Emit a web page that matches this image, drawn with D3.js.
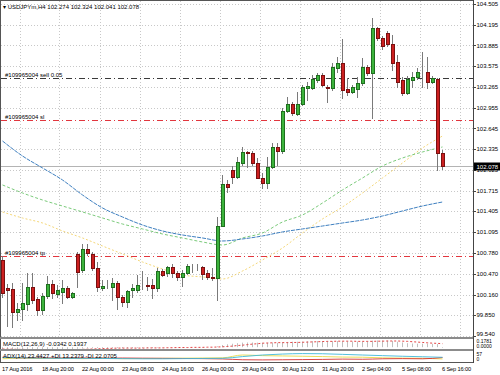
<!DOCTYPE html>
<html lang="en">
<head>
<meta charset="UTF-8">
<title>USDJPYm H4</title>
<script src="https://d3js.org/d3.v7.min.js"></script>
<style>
  body { margin: 0; background: #fff; }
  svg { display: block; font-family: "Liberation Sans", Arial, sans-serif; }
  .lbl { font-size: 6px; fill: #000; }
  .tlbl { font-size: 5.7px; fill: #000; letter-spacing: -0.15px; }
</style>
</head>
<body>
<svg width="500" height="375"></svg>
<script>
// H4 bars, 17 Aug 2016 16:00 .. 6 Sep 2016 16:00
const opens = [100.677,100.258,100.243,99.899,99.944,100.019,100.273,100.094,99.929,100.138,
  100.318,100.168,100.198,100.258,100.124,100.767,100.527,100.841,100.767,100.557,
  100.258,100.288,100.273,100.333,100.124,100.049,100.228,100.228,100.303,100.303,
  100.303,100.258,100.512,100.482,100.572,100.482,100.423,100.482,100.587,100.587,
  100.572,100.482,100.423,100.408,101.185,101.813,102.023,101.918,102.127,102.292,
  102.277,102.127,101.903,101.828,102.068,102.367,102.307,102.905,103.010,102.860,
  103.010,103.249,103.249,103.369,103.443,103.264,103.249,103.548,103.623,103.234,
  103.189,103.234,103.324,103.563,103.473,104.146,103.997,104.072,103.907,103.638,
  103.369,103.174,103.369,103.414,103.488,103.488,103.339,103.384,102.274];
const highs = [100.737,100.318,100.333,100.034,100.333,100.482,100.482,100.124,100.183,100.438,
  100.378,100.303,100.378,100.288,100.198,100.797,100.916,100.916,100.797,100.647,
  100.378,100.378,100.408,100.363,100.153,100.228,100.318,100.453,100.512,100.423,
  100.393,100.557,100.542,100.587,100.617,100.512,100.527,100.617,100.617,100.617,
  100.587,100.527,100.557,101.320,101.948,101.873,102.083,102.217,102.367,102.307,
  102.307,102.202,101.978,102.217,102.427,102.427,102.950,103.114,103.040,103.189,
  103.294,103.339,103.443,103.473,103.473,103.294,103.623,103.713,103.982,103.399,
  103.294,103.414,103.698,103.593,104.296,104.161,104.027,104.102,104.042,103.743,
  103.414,103.428,103.488,103.548,103.787,103.713,103.428,103.399,102.324];
const lows = [100.124,99.690,99.675,99.780,99.780,99.929,100.034,99.854,99.869,100.109,
  100.109,100.124,100.034,100.109,100.109,100.273,100.497,100.752,100.527,100.213,
  100.228,100.258,100.079,99.944,99.989,99.974,100.124,100.198,100.243,100.228,
  100.109,100.213,100.438,100.438,100.423,100.378,100.288,100.468,100.497,100.527,
  100.393,100.393,100.378,100.079,101.185,101.694,101.828,101.903,102.098,102.068,
  102.098,101.903,101.754,101.754,102.053,102.098,102.277,102.890,102.845,102.845,
  102.995,103.070,103.234,103.339,103.279,103.040,103.219,103.488,103.099,103.144,
  103.174,103.114,103.294,103.443,102.800,103.967,103.832,103.877,103.518,103.264,
  103.144,103.159,103.264,103.384,103.264,103.249,103.324,102.023,102.041];
const closes = [100.183,100.228,99.899,99.944,100.034,100.273,100.079,99.929,100.138,100.318,
  100.183,100.228,100.258,100.124,100.183,100.497,100.841,100.782,100.557,100.273,
  100.288,100.293,100.333,100.124,100.049,100.213,100.258,100.303,100.300,100.288,
  100.258,100.512,100.453,100.572,100.482,100.423,100.482,100.587,100.590,100.585,
  100.468,100.423,100.408,101.185,101.813,101.769,101.918,102.142,102.292,102.277,
  102.127,101.903,101.828,102.068,102.367,102.307,102.905,103.010,102.875,103.010,
  103.264,103.279,103.384,103.443,103.294,103.249,103.563,103.623,103.219,103.189,
  103.264,103.324,103.563,103.473,104.146,103.997,103.877,103.907,103.623,103.339,
  103.174,103.384,103.414,103.488,103.485,103.339,103.399,102.277,102.078];

// moving averages, read every 4th bar
const maIdx = [0,4,8,12,16,20,24,28,32,36,40,44,48,52,56,60,64,68,72,76,80,84,88];
const maBlue = [102.456,102.232,102.053,101.873,101.649,101.455,101.320,101.200,101.111,101.051,
  101.006,100.961,100.991,101.036,101.096,101.141,101.185,101.230,101.275,101.335,101.410,101.484,101.544];
const maGreen = [101.799,101.679,101.574,101.484,101.395,101.305,101.215,101.141,101.066,101.006,
  100.946,100.901,101.006,101.081,101.245,101.350,101.529,101.724,101.903,102.083,102.202,102.292,102.367];
const maYellow = [101.395,101.305,101.230,101.111,101.006,100.886,100.767,100.647,100.542,100.453,
  100.423,100.393,100.512,100.677,100.856,101.081,101.290,101.470,101.679,101.903,102.127,102.352,102.531];

// order lines
const orders = [
  {label: "#109965004 sell 0.05", price: 103.399, color: "#3a3a3a"},
  {label: "#109965004 sl", price: 102.770, color: "#e2363e"},
  {label: "#109965004 tp", price: 100.737, color: "#e2363e"}
];

const priceTicks = ["104.505","104.195","103.885","103.575","103.265","102.955","102.645","102.335",
  "102.025","101.715","101.405","101.095","100.780","100.470","100.160","99.850","99.540"];
const timeLabels = ["17 Aug 2016","18 Aug 20:00","22 Aug 00:00","23 Aug 08:00","24 Aug 16:00","26 Aug 00:00",
  "29 Aug 04:00","30 Aug 12:00","31 Aug 20:00","2 Sep 04:00","5 Sep 08:00","6 Sep 16:00"];
const timeIdx = [0,8,16,24,32,40,48,56,64,72,80,88];

// MACD(12,26,9)
const macdMain = [-0.12,-0.13,-0.14,-0.15,-0.15,-0.14,-0.14,-0.15,-0.15,-0.14,-0.13,-0.13,-0.12,-0.12,-0.12,-0.09,
  -0.07,-0.06,-0.05,-0.05,-0.05,-0.05,-0.04,-0.05,-0.05,-0.05,-0.05,-0.04,-0.04,-0.04,-0.04,-0.03,-0.02,-0.01,-0.01,-0.01,-0.01,0.00,0.00,0.01,0.01,0.00,0.00,
  0.05,0.12,0.16,0.19,0.22,0.25,0.26,0.26,0.25,0.24,0.24,0.25,0.24,0.27,0.29,0.30,0.30,0.31,0.32,0.33,0.34,0.34,0.33,0.33,0.34,0.33,0.32,0.31,0.31,0.31,0.31,
  0.36,0.37,0.37,0.36,0.34,0.30,0.26,0.22,0.20,0.19,0.19,0.19,0.18,0.17,-0.0342];
const macdSignal = [-0.10,-0.11,-0.11,-0.12,-0.12,-0.13,-0.13,-0.13,-0.14,-0.14,-0.14,-0.14,-0.14,-0.13,-0.13,-0.13,
  -0.12,-0.11,-0.10,-0.09,-0.08,-0.07,-0.06,-0.05,-0.05,-0.05,-0.05,-0.05,-0.05,-0.04,-0.04,-0.04,-0.04,-0.03,-0.03,-0.02,-0.02,-0.02,-0.01,-0.01,-0.01,0.00,0.00,
  0.01,0.02,0.04,0.06,0.09,0.11,0.14,0.17,0.19,0.22,0.23,0.24,0.25,0.25,0.25,0.26,0.26,0.27,0.28,0.29,0.30,0.31,0.32,0.32,0.33,0.33,0.33,0.33,0.32,
  0.32,0.32,0.32,0.33,0.33,0.34,0.34,0.34,0.33,0.32,0.30,0.28,0.26,0.24,0.22,0.21,0.1937];
const macdScale = ["0.1781", "0.0000"];

// ADX(14), read every 4th bar
const adxMain = [22,20,18,17,17,16,15,14,14,15,16,17,28,38,44,47,46,42,38,34,30,27,23.4427];
const adxPlus = [14,18,16,17,15,17,15,16,17,18,19,20,38,34,32,30,28,25,24,20,18,17,13.2379];
const adxMinus = [24,20,21,19,20,18,19,18,17,16,15,13,8,7,8,9,10,12,11,14,15,14,22.0705];
const adxScale = ["57", "0"];

const svg = d3.select("svg");
const plotR = 473;          // price axis line
const mainTop = 1, mainBot = 337;
const macdTop = 339, macdBot = 349;
const adxTop = 351, adxBot = 362;
const last = opens.length - 1;

const x = d3.scaleLinear().domain([0, 88]).range([2.5, 442.5]);
const y = d3.scaleLinear().domain([99.54, 104.505]).range([336, 4]);
const yMacd = d3.scaleLinear().domain([-0.1, 0.45]).range([macdBot, macdTop]);
const yAdx = d3.scaleLinear().domain([0, 57]).range([adxBot - 1, adxTop + 1]);

const defs = svg.append("defs");
defs.append("clipPath").attr("id", "clipMain").append("rect")
  .attr("x", 1).attr("y", mainTop).attr("width", plotR - 1).attr("height", mainBot - mainTop);
defs.append("clipPath").attr("id", "clipMacd").append("rect")
  .attr("x", 1).attr("y", macdTop).attr("width", plotR - 1).attr("height", macdBot - macdTop);
defs.append("clipPath").attr("id", "clipAdx").append("rect")
  .attr("x", 1).attr("y", adxTop).attr("width", plotR - 1).attr("height", adxBot - adxTop);

// grid
const grid = svg.append("g").attr("stroke", "#c8c8c8").attr("stroke-dasharray", "1,2");
grid.selectAll(".hg").data(priceTicks).enter().append("line")
  .attr("x1", 1).attr("x2", plotR)
  .attr("y1", d => Math.round(y(+d)) + 0.5).attr("y2", d => Math.round(y(+d)) + 0.5);
grid.selectAll(".vg").data(timeIdx).enter().append("line")
  .attr("x1", d => Math.round(x(d + 4)) - 2.5).attr("x2", d => Math.round(x(d + 4)) - 2.5)
  .attr("y1", mainTop).attr("y2", mainBot);

// current price line
svg.append("line").attr("x1", 1).attr("x2", plotR)
  .attr("y1", Math.round(y(closes[last])) + 0.5).attr("y2", Math.round(y(closes[last])) + 0.5)
  .attr("stroke", "#b4b4b4");

// moving averages
const main = svg.append("g").attr("clip-path", "url(#clipMain)");
const maLine = d3.line().x((d, i) => x(maIdx[i])).y(d => y(d)).curve(d3.curveMonotoneX);
main.append("path").attr("d", maLine(maYellow)).attr("fill", "none")
  .attr("stroke", "#f3d36a").attr("stroke-width", 0.9).attr("stroke-dasharray", "2,2");
main.append("path").attr("d", maLine(maGreen)).attr("fill", "none")
  .attr("stroke", "#6cc46c").attr("stroke-width", 0.9).attr("stroke-dasharray", "3,2");
main.append("path").attr("d", maLine(maBlue)).attr("fill", "none")
  .attr("stroke", "#3f80c0").attr("stroke-width", 1).attr("stroke-dasharray", "4,1");

// order lines
orders.forEach(o => {
  const yy = Math.round(y(o.price)) + 0.5;
  main.append("line").attr("x1", 1).attr("x2", plotR).attr("y1", yy).attr("y2", yy)
    .attr("stroke", o.color).attr("stroke-dasharray", "6,3,1,3");
  svg.append("text").attr("class", "lbl").attr("x", 5).attr("y", yy - 2).text(o.label);
});

// candles
const bars = d3.range(opens.length).map(i => ({i, o: opens[i], h: highs[i], l: lows[i], c: closes[i]}));
main.selectAll(".wick").data(bars).enter().append("line")
  .attr("x1", d => x(d.i)).attr("x2", d => x(d.i))
  .attr("y1", d => Math.round(y(d.h))).attr("y2", d => Math.round(y(d.l)) + 1)
  .attr("stroke", "#7a7a7a");
main.selectAll(".body").data(bars).enter().append("rect")
  .attr("x", d => x(d.i) - 1).attr("width", 3)
  .attr("y", d => Math.round(y(Math.max(d.o, d.c))) + 0.5)
  .attr("height", d => Math.max(0, Math.round(y(Math.min(d.o, d.c))) - Math.round(y(Math.max(d.o, d.c)))))
  .attr("fill", d => d.c >= d.o ? "#3cb33c" : "#cc2020")
  .attr("stroke", d => d.c >= d.o ? "#1f6e1f" : "#7a1010");

// MACD panel
const macd = svg.append("g").attr("clip-path", "url(#clipMacd)");
macd.selectAll(".hist").data(macdMain).enter().append("line")
  .attr("x1", (d, i) => x(i)).attr("x2", (d, i) => x(i))
  .attr("y1", yMacd(0)).attr("y2", d => yMacd(d))
  .attr("stroke", "#c0c0c0");
macd.append("path")
  .attr("d", d3.line().x((d, i) => x(i)).y(d => yMacd(d))(macdSignal))
  .attr("fill", "none").attr("stroke", "#e03030").attr("stroke-width", 0.9).attr("stroke-dasharray", "2,2");

// ADX panel
const adx = svg.append("g").attr("clip-path", "url(#clipAdx)");
const adxLine = d3.line().x((d, i) => x(maIdx[i])).y(d => yAdx(d)).curve(d3.curveMonotoneX);
adx.append("path").attr("d", adxLine(adxPlus)).attr("fill", "none").attr("stroke", "#e8d848").attr("stroke-width", 0.9);
adx.append("path").attr("d", adxLine(adxMinus)).attr("fill", "none").attr("stroke", "#d83030").attr("stroke-width", 0.9);
adx.append("path").attr("d", adxLine(adxMain)).attr("fill", "none").attr("stroke", "#40b8d8").attr("stroke-width", 0.9);

// frames and separators
svg.append("line").attr("x1", 0.5).attr("x2", 0.5).attr("y1", 0).attr("y2", adxBot).attr("stroke", "#555");
svg.append("line").attr("x1", 0).attr("x2", plotR).attr("y1", 0.5).attr("y2", 0.5).attr("stroke", "#555");
svg.append("rect").attr("x", 0).attr("y", mainBot).attr("width", plotR + 1).attr("height", 2).attr("fill", "#8c8c8c");
svg.append("rect").attr("x", 0).attr("y", macdBot).attr("width", plotR + 1).attr("height", 2).attr("fill", "#8c8c8c");
svg.append("line").attr("x1", 0).attr("x2", plotR + 1).attr("y1", adxBot + 0.5).attr("y2", adxBot + 0.5).attr("stroke", "#555");
svg.append("line").attr("x1", plotR + 0.5).attr("x2", plotR + 0.5).attr("y1", 0).attr("y2", adxBot + 1).attr("stroke", "#444");

// price axis
const axis = svg.append("g");
axis.selectAll(".pt").data(priceTicks).enter().append("line")
  .attr("x1", plotR).attr("x2", plotR + 3)
  .attr("y1", d => Math.round(y(+d)) + 0.5).attr("y2", d => Math.round(y(+d)) + 0.5)
  .attr("stroke", "#444");
axis.selectAll(".pl").data(priceTicks).enter().append("text").attr("class", "lbl")
  .attr("x", plotR + 3.5).attr("y", d => Math.min(y(+d), 334) + 2.2).text(d => d);

// current price marker
const cy = Math.round(y(closes[last]));
svg.append("rect").attr("x", plotR + 1).attr("y", cy - 3.5).attr("width", 27).attr("height", 8).attr("fill", "#000");
svg.append("text").attr("class", "lbl").attr("x", plotR + 3.5).attr("y", cy + 2.6)
  .style("fill", "#fff").text(closes[last].toFixed(3));

// header
svg.append("text").attr("class", "lbl").attr("x", 3).attr("y", 8.5)
  .text("\u25BE USDJPYm,H4  " + [opens[last], highs[last], lows[last], closes[last]].map(v => v.toFixed(3)).join(" "));

// indicator labels
svg.append("text").attr("class", "lbl").attr("x", 3).attr("y", macdTop + 6.5)
  .text("MACD(12,26,9) " + macdMain[last].toFixed(4) + " " + macdSignal[last].toFixed(4));
svg.append("text").attr("class", "lbl").attr("x", 3).attr("y", adxTop + 6.5)
  .text("ADX(14) " + adxMain[22].toFixed(4) + " +DI " + adxPlus[22].toFixed(4) + " -DI " + adxMinus[22].toFixed(4));
svg.append("text").attr("class", "lbl").style("font-size", "5px").attr("x", plotR + 3.5).attr("y", macdTop + 4).text(macdScale[0]);
svg.append("text").attr("class", "lbl").style("font-size", "5px").attr("x", plotR + 3.5).attr("y", macdTop + 9).text(macdScale[1]);
svg.append("text").attr("class", "lbl").style("font-size", "5px").attr("x", plotR + 3.5).attr("y", adxTop + 4.5).text(adxScale[0]);
svg.append("text").attr("class", "lbl").style("font-size", "5px").attr("x", plotR + 3.5).attr("y", adxTop + 9.5).text(adxScale[1]);

// time axis
svg.selectAll(".tl").data(timeLabels).enter().append("text").attr("class", "tlbl")
  .attr("x", (d, i) => x(timeIdx[i]) - 0.5).attr("y", 370.5).text(d => d);
</script>
</body>
</html>
